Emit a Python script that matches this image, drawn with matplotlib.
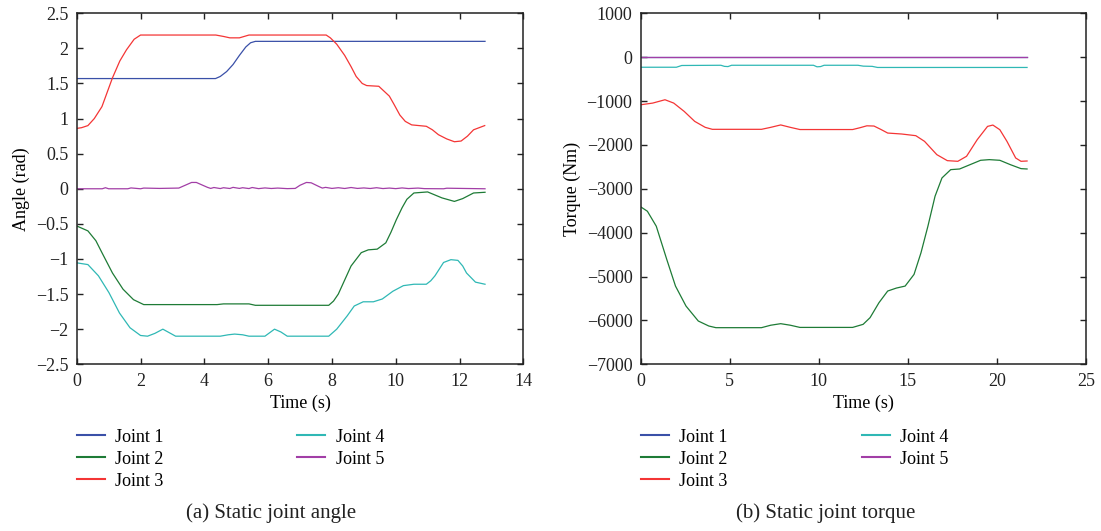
import numpy as np
import matplotlib
matplotlib.use('Agg')
import matplotlib.pyplot as plt
from matplotlib.ticker import FuncFormatter, MultipleLocator

plt.rcParams['font.family'] = ['Liberation Serif', 'DejaVu Serif']
plt.rcParams['axes.unicode_minus'] = True

# --- (a) static joint angle ---
t_a1 = [0, 4.35, 4.5, 4.7, 4.9, 5.1, 5.3, 5.45, 5.6, 12.8]
ang_j1 = [1.57, 1.57, 1.6, 1.67, 1.77, 1.9, 2.02, 2.08, 2.1, 2.1]

t_a2 = [0, 0.35, 0.6, 0.79, 1.12, 1.45, 1.78, 2.1, 4.4, 4.6, 5.4, 5.6, 7.9, 8.05, 8.2, 8.4,
        8.6, 8.92, 9.14, 9.42, 9.69, 9.85, 10.02, 10.2, 10.35, 10.57, 11.0, 11.45, 11.84,
        12.1, 12.44, 12.8]
ang_j2 = [-0.53, -0.6, -0.74, -0.91, -1.2, -1.43, -1.58, -1.65, -1.65, -1.64, -1.64, -1.66,
          -1.66, -1.6, -1.5, -1.3, -1.1, -0.91, -0.87, -0.86, -0.77, -0.62, -0.44, -0.27,
          -0.15, -0.06, -0.045, -0.13, -0.18, -0.14, -0.06, -0.05]

t_a3 = [0, 0.15, 0.35, 0.55, 0.79, 1.12, 1.35, 1.56, 1.8, 2.0, 4.36, 4.6, 4.8, 5.1, 5.25,
        5.4, 7.82, 7.95, 8.15, 8.4, 8.6, 8.76, 8.95, 9.09, 9.47, 9.8, 9.95, 10.13, 10.3,
        10.5, 10.96, 11.15, 11.34, 11.6, 11.84, 12.05, 12.25, 12.44, 12.79]
ang_j3 = [0.86, 0.87, 0.9, 1.0, 1.17, 1.58, 1.82, 1.98, 2.13, 2.19, 2.19, 2.17, 2.15, 2.15,
          2.17, 2.19, 2.19, 2.15, 2.06, 1.9, 1.74, 1.6, 1.5, 1.47, 1.46, 1.32, 1.2, 1.05,
          0.96, 0.91, 0.89, 0.84, 0.77, 0.71, 0.67, 0.68, 0.75, 0.84, 0.9]

t_a4 = [0, 0.35, 0.68, 1.01, 1.34, 1.67, 2.0, 2.22, 2.45, 2.7, 2.9, 3.1, 4.5, 4.75, 4.95,
        5.2, 5.4, 5.9, 6.05, 6.2, 6.4, 6.6, 7.9, 8.15, 8.48, 8.7, 8.98, 9.3, 9.58, 9.91,
        10.24, 10.57, 10.96, 11.1, 11.23, 11.5, 11.73, 11.95, 12.1, 12.22, 12.5, 12.8]
ang_j4 = [-1.055, -1.08, -1.24, -1.48, -1.77, -1.98, -2.09, -2.1, -2.06, -2.0, -2.05, -2.1,
          -2.1, -2.08, -2.07, -2.08, -2.1, -2.1, -2.05, -2.0, -2.04, -2.1, -2.1, -2.0,
          -1.81, -1.67, -1.61, -1.61, -1.57, -1.46, -1.38, -1.36, -1.36, -1.31, -1.24,
          -1.05, -1.01, -1.02, -1.1, -1.2, -1.33, -1.36]

t_a5 = [0, 0.8, 0.9, 1.0, 1.6, 1.7, 2.0, 2.1, 2.6, 3.2, 3.4, 3.6, 3.75, 3.9, 4.1, 4.2, 4.3,
        4.5, 4.6, 4.8, 4.9, 5.1, 5.2, 5.4, 5.5, 5.7, 5.9, 6.1, 6.3, 6.6, 6.85, 7.0, 7.2,
        7.35, 7.6, 7.7, 7.8, 8.0, 8.2, 8.4, 8.6, 8.8, 9.0, 9.2, 9.4, 9.6, 9.8, 10.0, 10.2,
        10.4, 10.7, 10.9, 11.5, 11.6, 12.8]
ang_j5 = [0, 0, 0.015, 0, 0, 0.012, 0, 0.01, 0.005, 0.01, 0.05, 0.09, 0.09, 0.06, 0.02,
          0.005, 0.018, 0.003, 0.015, 0.004, 0.02, 0.005, 0.015, 0.003, 0.018, 0.002, 0.012,
          0.004, 0.01, 0.002, 0.005, 0.05, 0.09, 0.085, 0.03, 0.01, 0.02, 0.005, 0.015,
          0.004, 0.018, 0.005, 0.012, 0.004, 0.015, 0.003, 0.01, 0.002, 0.012, 0.003, 0.01,
          0.002, 0, 0.008, 0]

# --- (b) static joint torque ---
t_b1 = [0, 21.7]
trq_j1 = [0, 0]

t_b2 = [0, 0.37, 0.87, 1.46, 1.95, 2.54, 3.23, 3.82, 4.22, 6.78, 7.3, 7.86, 8.4, 8.94,
        11.9, 12.49, 12.88, 13.38, 13.87, 14.36, 14.85, 15.35, 15.74, 16.13, 16.53, 16.92,
        17.41, 17.91, 18.5, 19.09, 19.58, 20.17, 20.76, 21.36, 21.7]
trq_j2 = [-3413, -3512, -3853, -4611, -5218, -5673, -6014, -6128, -6166, -6166, -6110,
          -6075, -6110, -6160, -6160, -6090, -5938, -5597, -5331, -5263, -5218, -4952,
          -4460, -3853, -3171, -2753, -2564, -2549, -2450, -2351, -2336, -2351, -2450,
          -2541, -2549]

t_b3 = [0, 0.67, 1.36, 1.85, 2.44, 3.03, 3.62, 4.02, 6.78, 7.3, 7.86, 8.4, 8.94, 11.9,
        12.3, 12.7, 13.1, 13.5, 13.87, 14.66, 15.45, 15.94, 16.63, 17.22, 17.81, 18.3,
        18.9, 19.48, 19.78, 20.17, 20.57, 21.06, 21.36, 21.7]
trq_j3 = [-1085, -1047, -971, -1047, -1237, -1464, -1600, -1645, -1645, -1600, -1545,
          -1600, -1650, -1650, -1610, -1565, -1570, -1650, -1730, -1752, -1790, -1919,
          -2222, -2359, -2374, -2260, -1881, -1578, -1548, -1654, -1919, -2298, -2374,
          -2367]

t_b4 = [0, 2.0, 2.3, 4.5, 4.7, 4.9, 5.1, 9.7, 9.9, 10.1, 10.3, 12.2, 12.5, 13.0, 13.3, 21.7]
trq_j4 = [-230, -230, -190, -185, -210, -215, -185, -185, -220, -215, -185, -185, -205,
          -210, -235, -235]

t_b5 = [0, 21.7]
trq_j5 = [0, 0]

labels = ['Joint 1', 'Joint 2', 'Joint 3', 'Joint 4', 'Joint 5']
colors = ['#3a50a8', '#1e7b36', '#f43535', '#2fb8b5', '#a23ea6']


def fmt(v, _):
    return f'{v:g}'.replace('-', '\u2212')


def style_axes(ax):
    ax.tick_params(direction='in', length=4, width=1, top=True, right=True,
                   labelsize=13, pad=6, colors='#222222')
    for s in ax.spines.values():
        s.set_linewidth(1.1)
        s.set_color('#222222')
    ax.yaxis.set_major_formatter(FuncFormatter(fmt))
    ax.xaxis.set_major_formatter(FuncFormatter(fmt))


fig = plt.figure(figsize=(11.01, 5.31), dpi=100)
ax1 = fig.add_axes([0.0697, 0.314, 0.4056, 0.661])
ax2 = fig.add_axes([0.582, 0.314, 0.4042, 0.661])

angle = [(t_a1, ang_j1), (t_a2, ang_j2), (t_a3, ang_j3), (t_a4, ang_j4), (t_a5, ang_j5)]
torque = [(t_b1, trq_j1), (t_b2, trq_j2), (t_b3, trq_j3), (t_b4, trq_j4), (t_b5, trq_j5)]

for (t, v), c, lab in zip(angle, colors, labels):
    ax1.plot(t, v, color=c, lw=0.9, label=lab)
for (t, v), c, lab in zip(torque, colors, labels):
    ax2.plot(t, v, color=c, lw=0.9, label=lab)

ax1.set_xlim(0, 14)
ax1.set_ylim(-2.5, 2.5)
ax1.xaxis.set_major_locator(MultipleLocator(2))
ax1.yaxis.set_major_locator(MultipleLocator(0.5))
ax1.set_xlabel('Time (s)', fontsize=13, labelpad=4)
ax1.set_ylabel('Angle (rad)', fontsize=13, labelpad=4)

ax2.set_xlim(0, 25)
ax2.set_ylim(-7000, 1000)
ax2.xaxis.set_major_locator(MultipleLocator(5))
ax2.yaxis.set_major_locator(MultipleLocator(1000))
ax2.set_xlabel('Time (s)', fontsize=13, labelpad=4)
ax2.set_ylabel('Torque (Nm)', fontsize=13, labelpad=4)

for ax in (ax1, ax2):
    style_axes(ax)

leg_kw = dict(loc='upper left', ncol=2, frameon=False, fontsize=13, handlelength=1.55,
              handletextpad=0.59, columnspacing=7.4, labelspacing=0.28, borderpad=0,
              borderaxespad=0, bbox_transform=fig.transFigure)
for ax, x0 in ((ax1, 0.0697), (ax2, 0.582)):
    leg = ax.legend(bbox_to_anchor=(x0, 0.193), **leg_kw)
    for h in leg.get_lines():
        h.set_linewidth(1.5)

fig.text(0.246, 1 - 513 / 531, '(a) Static joint angle', fontsize=15, ha='center',
         va='center', color='#222222')
fig.text(0.750, 1 - 513 / 531, '(b) Static joint torque', fontsize=15, ha='center',
         va='center', color='#222222')

fig.savefig('out.png', dpi=100)
